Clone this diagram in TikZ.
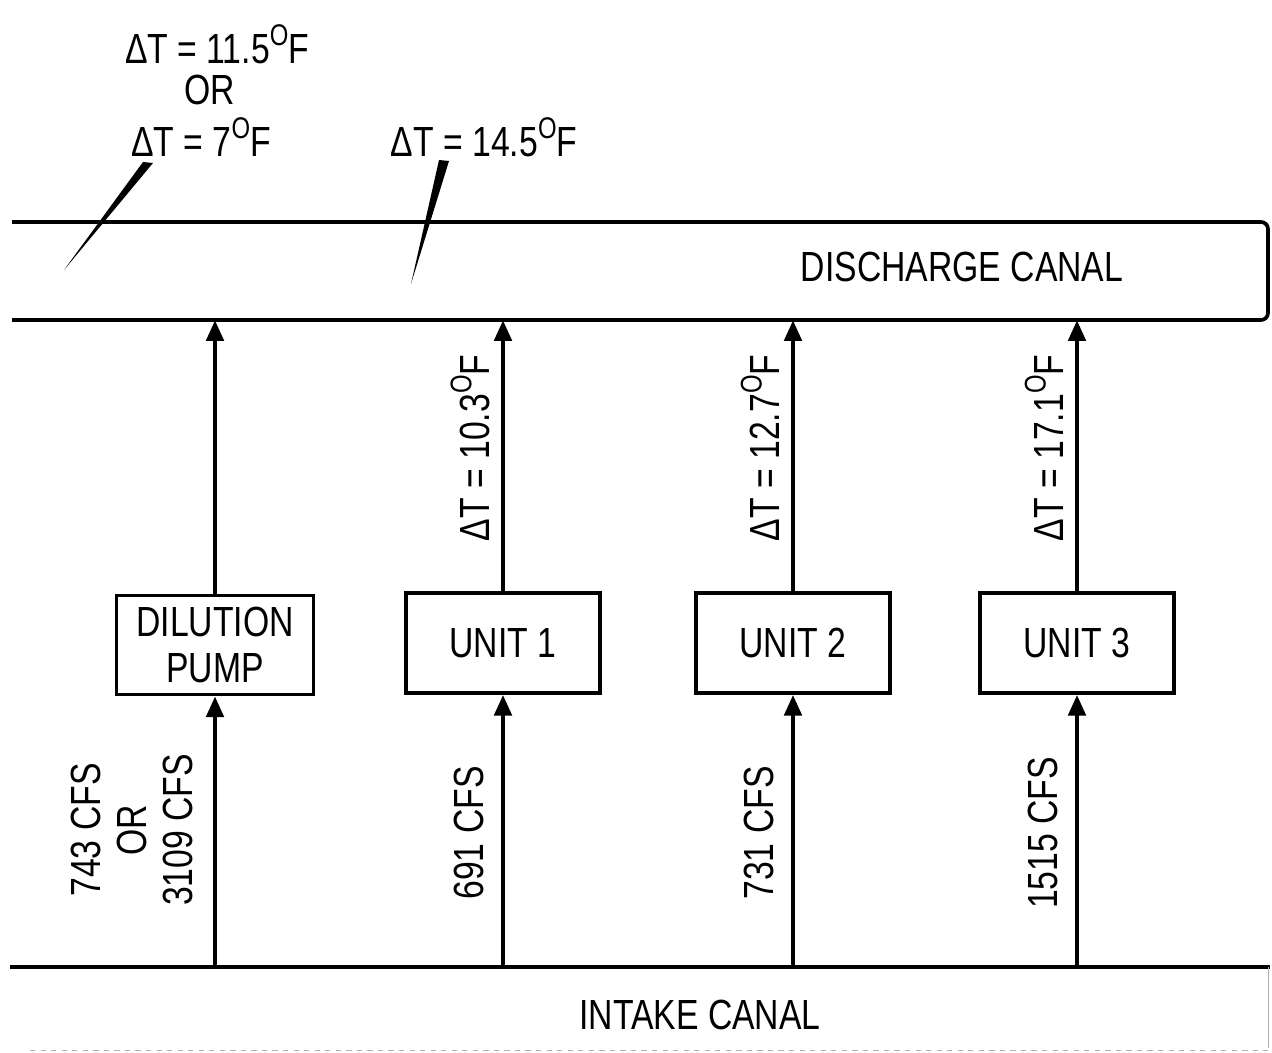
\documentclass[tikz,border=0pt]{standalone}
\usepackage{fontspec}
\setmainfont{Liberation Sans}[FakeStretch=0.8]
\usepackage{tikz}
\usetikzlibrary{arrows.meta,positioning}

\begin{document}
\begin{tikzpicture}[x=0.02cm,y=-0.02cm,
    canal/.style={line width=2.1pt},
    unitbox/.style={draw,line width=1.9pt,minimum width=3.88cm,minimum height=2cm,inner sep=0pt,align=center},
    flow/.style={line width=2.8pt,-{Triangle[length=0.42cm,width=0.34cm]}},
    lbl/.style={font=\fontsize{24}{26}\selectfont,inner sep=0pt,align=center}]
  \useasboundingbox (0,0) rectangle (1272,1053);
  \def\dg{\raisebox{0.42em}{\fontsize{17}{17}\selectfont O}F}
  % canals
  \draw[canal,rounded corners=4pt] (12,222) -- (1268,222) -- (1268,320) -- (12,320);
  \draw[canal] (10,967) -- (1270,967);
  \draw[thin,gray!60] (1268,967) -- (1268,1048);
  \draw[thin,gray!60,dashed] (30,1050) -- (1268,1050);
  \node[lbl] (dis) at (962,267) {DISCHARGE CANAL};
  \node[lbl] (int) at (700,1015) {INTAKE CANAL};
  % dilution pump
  \node[unitbox,minimum width=3.94cm,minimum height=1.98cm,lbl] (dil) at (215,645) {DILUTION\\PUMP};
  \coordinate (I0) at (215,967);
  \coordinate (D0) at (215,320);
  \draw[flow] (I0) -- (dil);
  \draw[flow] (dil) -- (D0);
  \node[lbl,rotate=90] (q0) at (132,830) {743 CFS\\OR\\3109 CFS};
  % units
  \foreach \i/\x/\t/\q in {1/503/10.3/691, 2/793/12.7/731, 3/1077/17.1/1515}{
    \node[unitbox,lbl] (u\i) at (\x,643) {UNIT \i};
    \coordinate (I\i) at (\x,967);
    \coordinate (D\i) at (\x,320);
    \draw[flow] (I\i) -- (u\i);
    \draw[flow] (u\i) -- (D\i);
    \node[lbl,rotate=90] (dt\i) at ({\x-33},448) {ΔT = \t\dg};
    \node[lbl,rotate=90] (q\i) at ({\x-34},833) {\q\ CFS};
  }
  % outfall temperatures
  \node[lbl] (t11) at (217,44) {ΔT = 11.5\dg};
  \node[lbl] (tor) at (210,90) {OR};
  \node[lbl] (t7) at (201,137) {ΔT = 7\dg};
  \node[lbl] (t14) at (484,137) {ΔT = 14.5\dg};
  \fill (143,162) -- (153,163) -- (64,270) -- cycle;
  \fill (439,160) -- (449,161) -- (411,284) -- cycle;
\end{tikzpicture}
\end{document}
